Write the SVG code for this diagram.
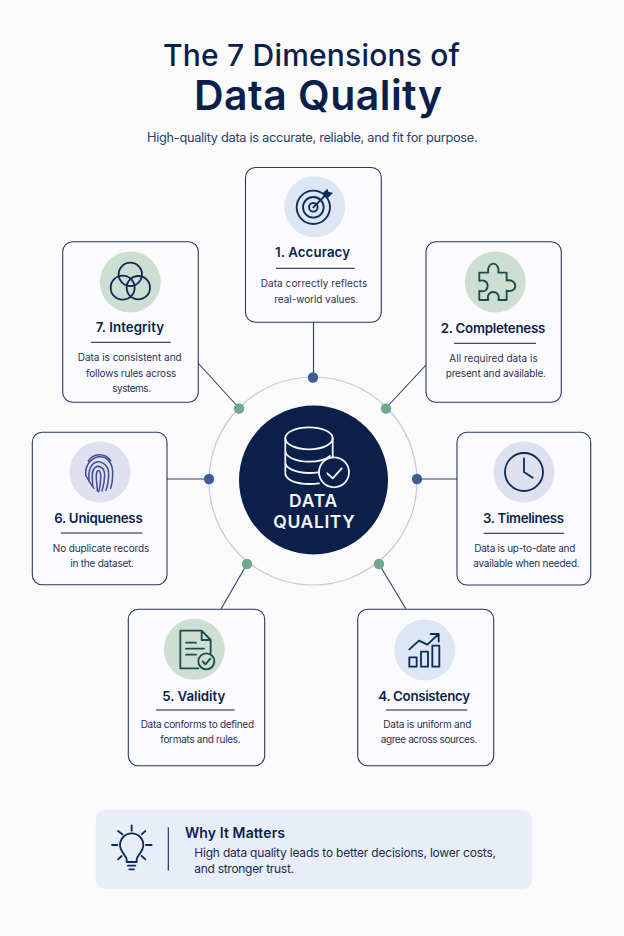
<svg xmlns="http://www.w3.org/2000/svg" width="624" height="936" viewBox="0 0 624 936">
<style>
text{font-family:"Inter","Liberation Sans",sans-serif;fill:#0b1f4b}
.h1{font-size:30px;font-weight:500}
.h2{font-size:41px;font-weight:600}
.sub{font-size:12.800px;fill:#2c3e68}
.t{font-size:13.300px;font-weight:600}
.b{font-size:10px;fill:#2a3350}
.card{fill:#fbfbfd;stroke:#24375f;stroke-width:1.1}
.rule{stroke:#0b1f4b;stroke-width:1}
.blue{fill:#dde6f4}.green{fill:#cddfd3}.lav{fill:#dfe1f1}
.ic{fill:none;stroke:#0f2a56;stroke-width:5.500;stroke-linecap:round;stroke-linejoin:round}
.g{stroke:#1d4a4a}
.conn{stroke:#2a3f6e;stroke-width:1.1;fill:none}
.db{fill:none;stroke:#f4f6fa;stroke-width:1.800;stroke-linecap:round;stroke-linejoin:round}
.dotb{fill:#3b5f93}.dotg{fill:#6fa98f}
</style>
<rect width="624" height="936" fill="#fafafb"/>
<g id="header">
<text class="h1" x="163" y="66" textLength="297">The 7 Dimensions of</text>
<text class="h2" x="194" y="110" textLength="248">Data Quality</text>
<text class="sub" x="147" y="141.700" textLength="330.600">High-quality data is accurate, reliable, and fit for purpose.</text>
</g>
<g id="connectors">
<line class="conn" x1="313.500" y1="322" x2="313.500" y2="377"/>
<line class="conn" x1="426" y1="365" x2="386" y2="408"/>
<line class="conn" x1="198" y1="363" x2="239" y2="408"/>
<line class="conn" x1="167" y1="479" x2="209" y2="479"/>
<line class="conn" x1="417" y1="479" x2="457" y2="479"/>
<line class="conn" x1="247" y1="564" x2="221" y2="609"/>
<line class="conn" x1="379" y1="564" x2="406" y2="609"/>
</g>
<g id="hub">
<circle cx="313" cy="481" r="104" fill="none" stroke="#c3c8de" stroke-width="1.200"/>
<circle class="dotb" cx="313" cy="377.500" r="5.200"/>
<circle class="dotg" cx="386" cy="408.500" r="5.200"/>
<circle class="dotb" cx="417" cy="479" r="5.200"/>
<circle class="dotg" cx="379" cy="564" r="5.200"/>
<circle class="dotg" cx="247" cy="564" r="5.200"/>
<circle class="dotb" cx="209" cy="479" r="5.200"/>
<circle class="dotg" cx="239" cy="408.500" r="5.200"/>
<circle cx="313.500" cy="480" r="74.500" fill="#0b1f4b"/>
<ellipse class="db" cx="309" cy="438.300" rx="23.700" ry="11"/>
<path class="db" d="M285.300 438.300V473C285.300 480 296 484 309 484C313 484 316 483.800 319 483.300M285.300 450.500C285.300 457 296 461.700 309 461.700C318 461.700 326 459.500 330 456M285.300 462C285.300 468.500 296 473 309 473C312 473 315 472.800 318 472.300M332.700 438.300V457"/>
<circle cx="334" cy="472.300" r="15" fill="#0b1f4b" stroke="#f4f6fa" stroke-width="1.800"/>
<path class="db" d="M327.300 473.300L332.700 478.300L341.700 468.300"/>
<text x="289" y="506.700" textLength="48.300" style="font-size:17.500px;font-weight:600;fill:#f4f6fa">DATA</text>
<text x="273.300" y="527.700" textLength="81.400" style="font-size:17.500px;font-weight:600;fill:#f4f6fa">QUALITY</text>
</g>
<g id="node1">
<rect class="card" x="245.500" y="167.500" width="135.800" height="154.800" rx="10"/>
<circle class="blue" cx="314.700" cy="206.700" r="30.500"/>
<g transform="translate(240 160) scale(.3333)"><circle class="ic" cx="220" cy="142" r="50"/><circle class="ic" cx="220" cy="142" r="31"/><circle class="ic" cx="220" cy="142" r="13"/><path class="ic" d="M220 142L258 104"/><path d="M248 100L262 86L266 96L279 98L266 112L252 112Z" fill="#0f2a56"/></g>
<text class="t" x="275" y="257" textLength="75">1. Accuracy</text>
<line class="rule" x1="276" y1="268.300" x2="354.700" y2="268.300"/>
<text class="b" x="260.700" y="286.700" textLength="106.600">Data correctly reflects</text>
<text class="b" x="274.300" y="302.700" textLength="84">real-world values.</text>
</g>
<g id="node2">
<rect class="card" x="426" y="241.700" width="135.300" height="160.600" rx="10"/>
<circle class="green" cx="495.300" cy="282" r="30.500"/>
<path class="ic g" transform="translate(240 160) scale(.3333)" d="M718 338H745C742 322 750 311 760 311C770 311 778 322 775 338H800V362C812 358 826 365 826 378C826 391 812 396 800 392V420H775C780 405 770 396 760 396C750 396 740 405 745 420H718V392C730 397 743 392 743 378C743 364 730 358 718 363Z"/>
<text class="t" x="440.700" y="332.700" textLength="104.600">2. Completeness</text>
<line class="rule" x1="454" y1="343.300" x2="536" y2="343.300"/>
<text class="b" x="449.300" y="361.700" textLength="88.400">All required data is</text>
<text class="b" x="445.700" y="377.300" textLength="100.300">present and available.</text>
</g>
<g id="node3">
<rect class="card" x="457" y="432.300" width="133.700" height="152.700" rx="10"/>
<circle class="lav" cx="524" cy="472" r="30.500"/>
<g transform="translate(440 425) scale(.3333)"><circle class="ic" cx="252" cy="141" r="57"/><path class="ic" d="M252 100V141L278 158"/></g>
<text class="t" x="483" y="523" textLength="81">3. Timeliness</text>
<line class="rule" x1="483.700" y1="533.300" x2="564" y2="533.300"/>
<text class="b" x="474.300" y="551.700" textLength="101">Data is up-to-date and</text>
<text class="b" x="473.300" y="566.700" textLength="106.400">available when needed.</text>
</g>
<g id="node4">
<rect class="card" x="357.700" y="609.300" width="136" height="156.400" rx="10"/>
<circle class="blue" cx="424.700" cy="650" r="30.500"/>
<g transform="translate(350 600) scale(.3333)"><path class="ic" d="M178 172H200V200H178ZM213 155H234V200H213ZM247 137H268V200H247ZM178 148L207 122L232 134L266 102M242 102H266V125"/></g>
<text class="t" x="378.300" y="700.700" textLength="91.700">4. Consistency</text>
<line class="rule" x1="386" y1="710" x2="467.300" y2="710"/>
<text class="b" x="383.300" y="728" textLength="88">Data is uniform and</text>
<text class="b" x="380.700" y="742.700" textLength="96.600">agree across sources.</text>
</g>
<g id="node5">
<rect class="card" x="128.300" y="609.300" width="136.400" height="156.400" rx="10"/>
<circle class="green" cx="194.300" cy="649.300" r="30.500"/>
<g transform="translate(120 600) scale(.3333)"><path class="ic g" d="M235 205H181V92H245L272 120V160M245 92V120H272M198 128H228M198 146H252M198 164H228"/><circle class="ic g" cx="259" cy="184" r="24"/><path class="ic g" d="M248 184L256 193L271 176"/></g>
<text class="t" x="162.300" y="700.700" textLength="63">5. Validity</text>
<line class="rule" x1="156" y1="710" x2="234.700" y2="710"/>
<text class="b" x="140.700" y="728" textLength="113.300">Data conforms to defined</text>
<text class="b" x="160.300" y="742.700" textLength="80.400">formats and rules.</text>
</g>
<g id="node6">
<rect class="card" x="32.300" y="432.300" width="134.700" height="152.400" rx="10"/>
<circle class="lav" cx="100" cy="472" r="30.500"/>
<g transform="translate(20 425) scale(.3333)" fill="none" stroke="#3e4d94" stroke-width="4.500" stroke-linecap="round"><path d="M205 108C220 85 255 82 272 108"/><path d="M197 150C195 120 215 95 240 95C262 95 280 115 278 150C278 165 276 178 272 190"/><path d="M207 168C206 150 205 130 220 116C238 102 266 118 266 145C266 165 264 180 258 196"/><path d="M218 183C218 160 212 140 225 128C238 118 254 130 254 150C254 170 250 185 246 198"/><path d="M232 198C232 175 224 150 232 138C240 132 243 145 242 160C242 175 240 188 236 200"/><path d="M197 150L208 170L222 190"/></g>
<text class="t" x="54.300" y="523" textLength="88.400">6. Uniqueness</text>
<line class="rule" x1="61" y1="533" x2="142.300" y2="533"/>
<text class="b" x="52.700" y="551.700" textLength="96.600">No duplicate records</text>
<text class="b" x="70.300" y="566.700" textLength="63.700">in the dataset.</text>
</g>
<g id="node7">
<rect class="card" x="62.700" y="241.700" width="135.600" height="160.600" rx="10"/>
<circle class="green" cx="130.300" cy="282" r="30.500"/>
<g transform="translate(50 235) scale(.3333)"><circle class="ic" cx="241" cy="118" r="35"/><circle class="ic" cx="218" cy="158" r="36"/><circle class="ic" cx="265" cy="158" r="35"/></g>
<text class="t" x="95.700" y="332.300" textLength="68.300">7. Integrity</text>
<line class="rule" x1="91" y1="342.300" x2="170.700" y2="342.300"/>
<text class="b" x="77.700" y="361" textLength="104">Data is consistent and</text>
<text class="b" x="86" y="376.700" textLength="90.300">follows rules across</text>
<text class="b" x="112.300" y="391.700" textLength="38.700">systems.</text>
</g>
<g id="why">
<rect x="95.700" y="810" width="436.300" height="78.700" rx="9" fill="#e9edf7"/>
<g transform="translate(90 800) scale(.3333)"><path class="ic" d="M110 178C108 165 90 155 90 135A35 35 0 1 1 160 135C160 155 142 165 140 178V186H110ZM114 197H136M118 208H132M125 76V92M84 93L97 103M166 93L155 103M66 135H82M168 135H185M84 178L95 168M166 178L155 168"/></g>
<line x1="168.300" y1="827.300" x2="168.300" y2="870.700" stroke="#0f2a56" stroke-width="1.100"/>
<text x="185" y="838.300" textLength="100" style="font-size:14px;font-weight:600">Why It Matters</text>
<text x="194.300" y="857.300" textLength="301.700" style="font-size:12px;fill:#1f2a4a">High data quality leads to better decisions, lower costs,</text>
<text x="194.300" y="873" textLength="99.700" style="font-size:12px;fill:#1f2a4a">and stronger trust.</text>
</g>
</svg>
